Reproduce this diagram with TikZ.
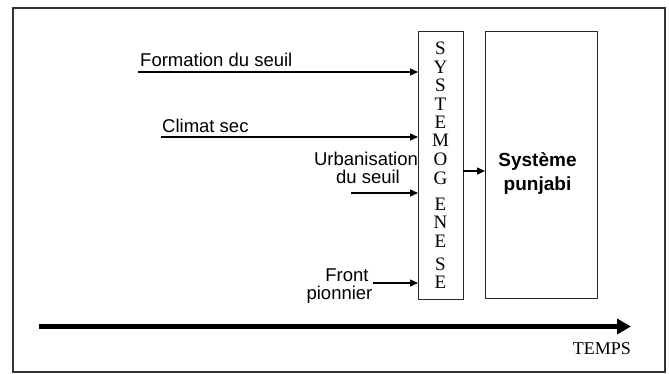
\documentclass[tikz,border=0pt]{standalone}
\usepackage{fontspec}
\setmainfont{Liberation Serif}
\newfontfamily\arialf{Liberation Sans}
\usetikzlibrary{arrows.meta}
\begin{document}
\begin{tikzpicture}[x=1pt,y=-1pt,
  box/.style={draw=black!85,line width=1pt},
  inarrow/.style={draw=black,line width=1.3pt,-{Triangle[length=8pt,width=7pt]}},
  lab/.style={font=\arialf\fontsize{18.5}{18.5}\selectfont,inner sep=0pt},
  letter/.style={font=\fontsize{19}{19}\selectfont,inner sep=0pt,anchor=base},
  ]
\useasboundingbox (0,0) rectangle (669,374);
\draw[draw=black!80,line width=1.6pt] (13,8) rectangle (665,372);
% boxes
\draw[box] (418,32) rectangle (463,299);
\draw[box] (485,32) rectangle (597,298);
\coordinate (sysR) at (463,171);
\coordinate (punL) at (485,171);
% letters
\foreach \ch/\yy [count=\i] in {S/49,Y/68,S/86,T/105,E/123,M/141,O/160,G/179,E/205,N/223,E/241,S/264,E/282}
  \node[letter] (l\i) at (440.5,\yy+6) {\ch};
% inputs
\node[lab,anchor=base west] (t1) at (140,67) {Formation du seuil};
\coordinate (a1) at (138,72);
\coordinate (b1) at (418,72);
\draw[inarrow] (a1) -- (b1);
\node[lab,anchor=base west] (t2) at (162,133) {Climat sec};
\coordinate (a2) at (161,137);
\coordinate (b2) at (418,137);
\draw[inarrow] (a2) -- (b2);
\node[lab,anchor=base] (t3a) at (366,166) {Urbanisation};
\node[lab,anchor=base] (t3b) at (368,184) {du seuil};
\coordinate (a3) at (351,193);
\coordinate (b3) at (418,193);
\draw[inarrow] (a3) -- (b3);
\node[lab,anchor=base] (t4a) at (347,281.5) {Front};
\node[lab,anchor=base] (t4b) at (339.5,299) {pionnier};
\coordinate (a4) at (373,283);
\coordinate (b4) at (418,283);
\draw[inarrow] (a4) -- (b4);
% middle arrow
\draw[inarrow] (sysR) -- (punL);
% punjabi
\node[font=\arialf\bfseries\fontsize{19}{23}\selectfont,inner sep=0pt,anchor=base] (p1) at (537.5,167) {Système};
\node[font=\arialf\bfseries\fontsize{19}{23}\selectfont,inner sep=0pt,anchor=base] (p2) at (537.5,190) {punjabi};
% time arrow
\coordinate (ts) at (39,326.5);
\coordinate (te) at (631,326.5);
\draw[line width=4.5pt,-{Triangle[length=14pt,width=15pt]}] (ts) -- (te);
\node[font=\fontsize{18}{18}\selectfont,inner sep=0pt,anchor=base east] (temps) at (631,354) {TEMPS};
\end{tikzpicture}
\end{document}
